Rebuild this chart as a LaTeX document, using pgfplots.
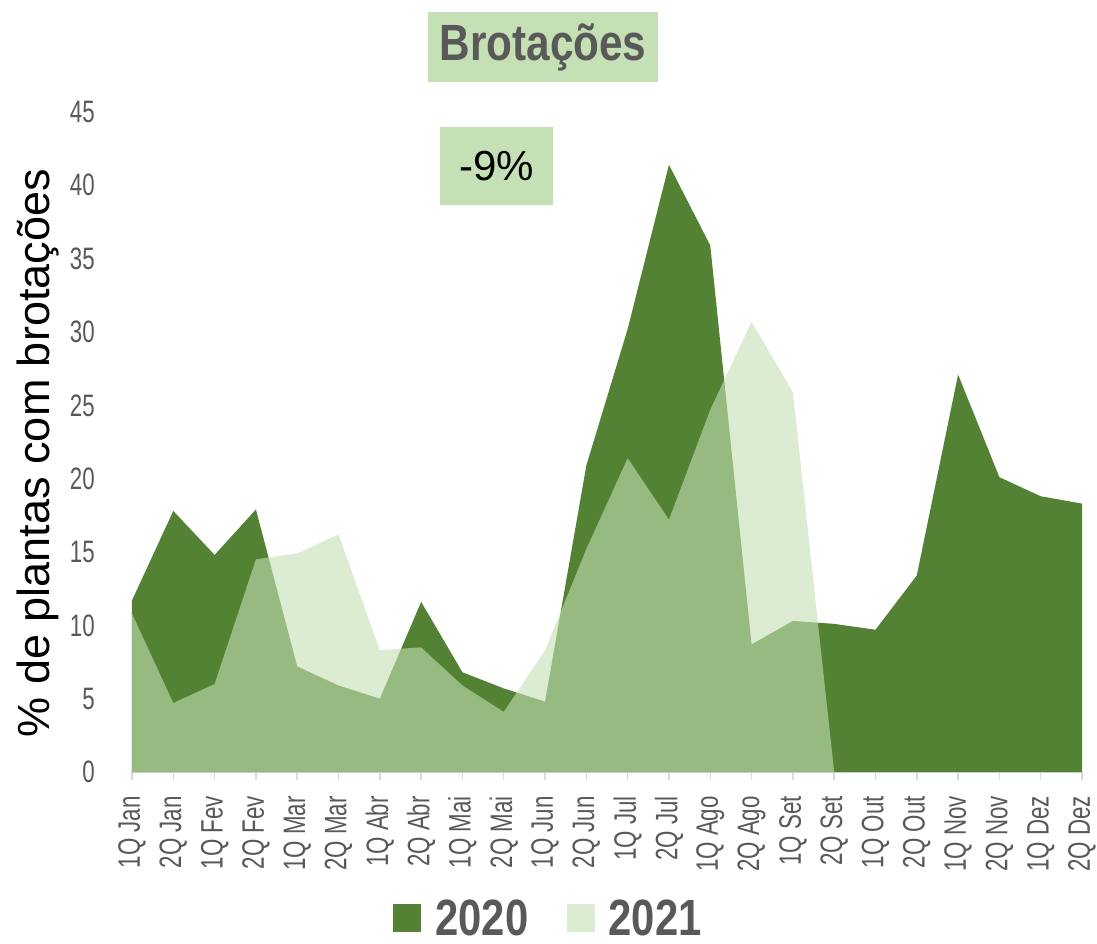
\documentclass[border=0pt]{standalone}
\usepackage{fontspec}
\setmainfont{Liberation Sans}
\newfontfamily\narrowfont[FakeStretch=0.72]{Liberation Sans}
\newfontfamily\titlefont[FakeStretch=0.83]{Liberation Sans}
\newfontfamily\legfont[FakeStretch=0.82]{Liberation Sans}
\usepackage{pgfplots}
\pgfplotsset{compat=1.18}
\definecolor{dkgreen}{HTML}{548235}
\definecolor{ltgreen}{HTML}{C5E0B4}
\definecolor{txtgray}{HTML}{595959}
\definecolor{axgray}{HTML}{D9D9D9}

\begin{document}
\begin{tikzpicture}[x=1pt,y=1pt]
\useasboundingbox (-132,-172) rectangle (965,772);
\begin{axis}[
  at={(0,0)}, anchor=south west,
  scale only axis, width=950pt, height=660pt,
  xmin=0, xmax=23, ymin=0, ymax=45,
  xtick={0,...,23},
  xticklabels={1Q Jan,2Q Jan,1Q Fev,2Q Fev,1Q Mar,2Q Mar,1Q Abr,2Q Abr,1Q Mai,2Q Mai,1Q Jun,2Q Jun,1Q Jul,2Q Jul,1Q Ago,2Q Ago,1Q Set,2Q Set,1Q Out,2Q Out,1Q Nov,2Q Nov,1Q Dez,2Q Dez},
  ytick={0,5,...,45},
  axis lines*=left,
  x axis line style={axgray, line width=1.5pt},
  y axis line style={draw=none},
  xtick style={axgray, line width=1.5pt},
  ytick style={draw=none},
  tick align=outside,
  major tick length=8pt,
  ticklabel style={font=\narrowfont\fontsize{31}{31}\selectfont, text=txtgray},
  /pgf/number format/assume math mode=true,
  xticklabel shift=16pt,
  xticklabel style={rotate=90, anchor=east, inner sep=0pt},
  yticklabel style={anchor=east, inner sep=0pt, xshift=-29pt},
  ylabel={\% de plantas com brotações},
  ylabel style={font=\fontsize{45}{45}\selectfont, at={(axis description cs:-0.0989,0.483)}, anchor=center},
  legend style={draw=none, fill=none, at={(0.4374,-0.2212)}, anchor=center,
    font=\legfont\bfseries\fontsize{51}{51}\selectfont, text=txtgray,
    /tikz/every even column/.append style={column sep=38pt},
    /tikz/every odd column/.append style={column sep=14pt},
    nodes={inner sep=0pt}},
  legend columns=-1,
  legend image code/.code={\fill[#1] (0pt,-14pt) rectangle (28pt,14pt);},
]
\addplot[fill=dkgreen, draw=none] coordinates {
(0,11.7) (1,17.8) (2,14.8) (3,17.9) (4,7.2) (5,5.9) (6,5.0) (7,11.6) (8,6.8) (9,5.7) (10,4.8) (11,20.9)
(12,30.2) (13,41.4) (14,35.9) (15,8.7) (16,10.3) (17,10.1) (18,9.7) (19,13.4) (20,27.1) (21,20.1) (22,18.8) (23,18.3)
} \closedcycle;
\addlegendentry{2020}
\addplot[fill=ltgreen, fill opacity=0.6, draw=none] coordinates {
(0,10.8) (1,4.7) (2,6.0) (3,14.5) (4,14.9) (5,16.2) (6,8.3) (7,8.5) (8,5.9) (9,4.1) (10,8.3) (11,15.2)
(12,21.4) (13,17.2) (14,24.7) (15,30.7) (16,25.9) (17,0)
} \closedcycle;
\addlegendentry{2021}
\end{axis}
\node[fill=ltgreen, minimum width=230pt, minimum height=70pt, inner sep=0pt, text=txtgray,
  font=\titlefont\bfseries\fontsize{51}{51}\selectfont] at (411,725) {Brotações};
\node[fill=ltgreen, minimum width=113pt, minimum height=78pt, inner sep=0pt,
  font=\fontsize{42}{42}\selectfont] at (364.5,606) {-9\%};
\end{tikzpicture}
\end{document}
